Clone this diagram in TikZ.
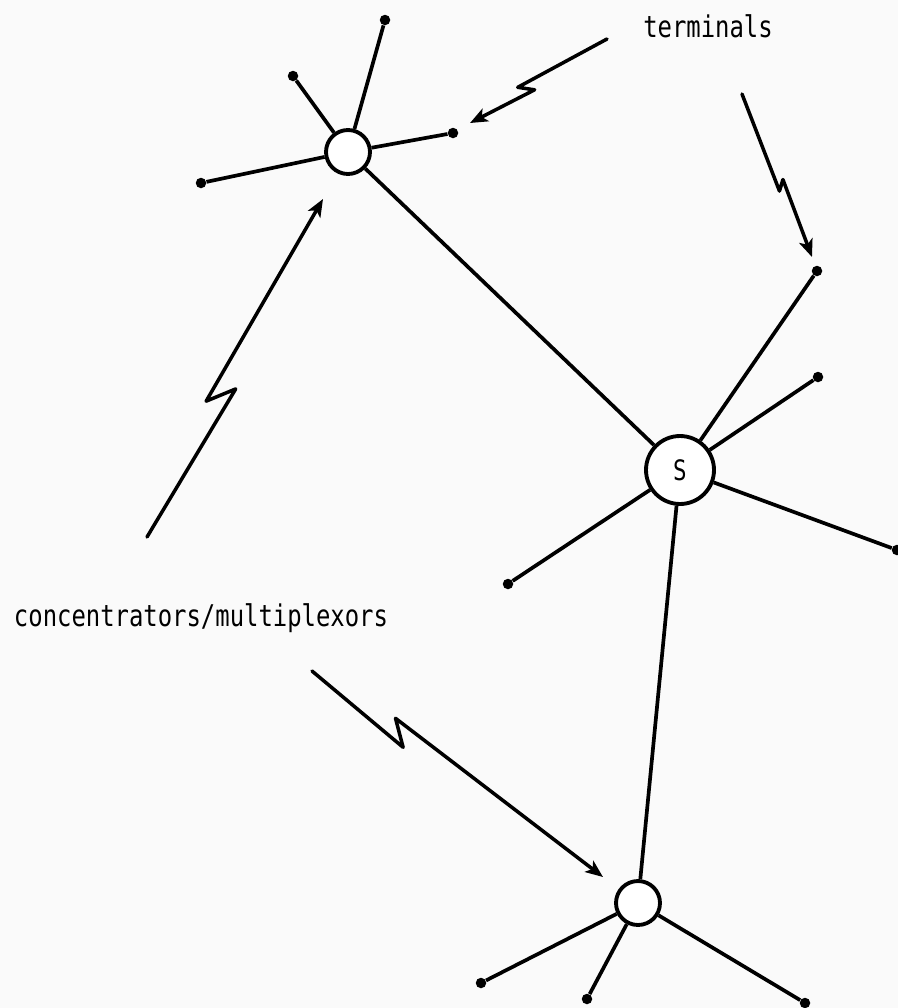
\documentclass[tikz,border=0pt]{standalone}
\usepackage{fontspec}
\newfontfamily\labelfont{DejaVu Sans Mono}[FakeStretch=0.8]
\usetikzlibrary{arrows.meta, calc}

% lightning arrow: tail, tip, position of the kink, size of the kink
\newcommand{\bolt}[4]{%
  \draw[boltline] (#1) -- ($(#1)!#3!(#2)!#4!-40:(#2)$)
    -- ($(#1)!#3!(#2)!#4!140:(#2)$) -- (#2);
}

\tikzset{
  conc/.style={circle, draw, fill=white, line width=2.2pt,
               minimum size=0.88cm, inner sep=0pt},
  switch/.style={conc, minimum size=1.36cm,
                 font=\labelfont\fontsize{16}{18}\selectfont},
  term/.style={circle, fill, inner sep=0pt, minimum size=0.21cm},
  link/.style={line width=2.1pt},
  boltline/.style={line width=2pt, line join=round, line cap=round,
                   -{Stealth[length=10pt, width=8pt, inset=2.5pt]}},
  lbl/.style={font=\labelfont\fontsize{17}{20}\selectfont, anchor=base}
}

\begin{document}
\begin{tikzpicture}[x=0.02cm, y=-0.02cm]

  \fill[black!2] (0,0) rectangle (898,1008);
  \useasboundingbox (0,0) rectangle (898,1008);

  % Switch and concentrators
  \node[switch] (sw) at (680,470) {S};
  \node[conc] (ca) at (348,152) {};
  \node[conc] (cb) at (638,903) {};
  \draw[link] (ca) -- (sw);
  \draw[link] (sw) -- (cb);

  % Terminals
  \foreach \n/\x/\y in {a1/385/20, a2/293/76, a3/453/133, a4/201/183} {
    \node[term] (\n) at (\x,\y) {};
    \draw[link] (ca) -- (\n);
  }
  \foreach \n/\x/\y in {s1/817/271, s2/818/377, s3/897/550, s4/508/584} {
    \node[term] (\n) at (\x,\y) {};
    \draw[link] (sw) -- (\n);
  }
  \foreach \n/\x/\y in {b1/481/983, b2/587/999, b3/805/1003} {
    \node[term] (\n) at (\x,\y) {};
    \draw[link] (cb) -- (\n);
  }

  % Labels
  \node[lbl] (termlbl) at (708,37) {terminals};
  \node[lbl] (conclbl) at (201,626) {concentrators/multiplexors};

  % Pointers
  \coordinate (p1tail) at (607,39);  \coordinate (p1tip) at (470,123);
  \coordinate (p2tail) at (742,94);  \coordinate (p2tip) at (812,257);
  \coordinate (p3tail) at (147,537); \coordinate (p3tip) at (323,199);
  \coordinate (p4tail) at (312,671); \coordinate (p4tip) at (603,877);
  \bolt{p1tail}{p1tip}{0.59}{0.17cm}
  \bolt{p2tail}{p2tip}{0.56}{0.12cm}
  \bolt{p3tail}{p3tip}{0.42}{0.32cm}
  \bolt{p4tail}{p4tip}{0.30}{0.30cm}

\end{tikzpicture}
\end{document}
